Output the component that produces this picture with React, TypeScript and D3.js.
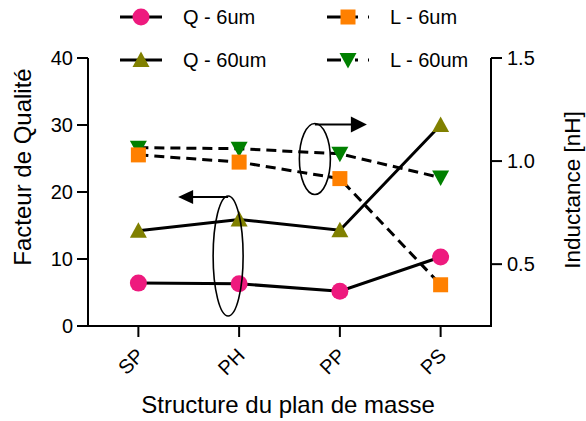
import React from "react";
import * as d3 from "d3";

const categories = ["SP", "PH", "PP", "PS"];
const q6um = [6.4, 6.3, 5.2, 10.3];
const q60um = [14.2, 15.9, 14.3, 30.0];
const l6um = [1.03, 0.995, 0.915, 0.40];
const l60um = [1.065, 1.06, 1.035, 0.92];
const leftTicks = [0, 10, 20, 30, 40];
const rightTicks = [0.5, 1.0, 1.5];

const W = 586;
const H = 421;
const FONT = "'Liberation Sans', Arial, Helvetica, sans-serif";

const x = d3.scalePoint<string>().domain(categories).range([88, 491]).padding(0.5);
const yL = d3.scaleLinear().domain([0, 40]).range([326, 58]);
const yR = d3.scaleLinear().domain([0.2, 1.5]).range([326, 58]);

type Marker = "circle" | "square" | "tri" | "tridown";

function markerEl(kind: Marker, cx: number, cy: number, color: string, key: string) {
  if (kind === "circle") return <circle key={key} cx={cx} cy={cy} r={8.5} fill={color} />;
  if (kind === "square")
    return <rect key={key} x={cx - 7.5} y={cy - 7.5} width={15} height={15} fill={color} />;
  if (kind === "tri")
    return (
      <path key={key} d={`M${cx},${cy - 8.5}L${cx + 8.5},${cy + 7}L${cx - 8.5},${cy + 7}Z`} fill={color} />
    );
  return (
    <path key={key} d={`M${cx},${cy + 8.5}L${cx + 8.5},${cy - 7}L${cx - 8.5},${cy - 7}Z`} fill={color} />
  );
}

const series = [
  { name: "Q - 6um", values: q6um, scale: yL, color: "#EE1A7E", marker: "circle" as Marker, dashed: false },
  { name: "Q - 60um", values: q60um, scale: yL, color: "#808000", marker: "tri" as Marker, dashed: false },
  { name: "L - 60um", values: l60um, scale: yR, color: "#008000", marker: "tridown" as Marker, dashed: true },
  { name: "L - 6um", values: l6um, scale: yR, color: "#FF8000", marker: "square" as Marker, dashed: true },
];

const legendItems = [
  { name: "Q - 6um", color: "#EE1A7E", marker: "circle" as Marker, dashed: false, col: 0, row: 0 },
  { name: "L - 6um", color: "#FF8000", marker: "square" as Marker, dashed: true, col: 1, row: 0 },
  { name: "Q - 60um", color: "#808000", marker: "tri" as Marker, dashed: false, col: 0, row: 1 },
  { name: "L - 60um", color: "#008000", marker: "tridown" as Marker, dashed: true, col: 1, row: 1 },
];

export default function App() {
  const line = d3.line<[number, number]>().x((d) => d[0]).y((d) => d[1]);
  const pxPH = x("PH")!;
  const pxPP = x("PP")!;
  const e1 = { cx: pxPH - 11, cy: yL(10.45), rx: 15, ry: 60 };
  const e2 = { cx: pxPP - 25, cy: yR(1.01), rx: 15.5, ry: 35.5 };
  return (
    <svg width={W} height={H} style={{ display: "block", position: "absolute", left: 0, top: 0 }} fontFamily={FONT}>
      <rect width={W} height={H} fill="#fff" />
      {/* axes frame */}
      <g stroke="#000" strokeWidth={2} fill="none">
        <line x1={88} y1={yL(40)} x2={88} y2={327} />
        <line x1={87} y1={326} x2={492} y2={326} />
        <line x1={491} y1={yR(1.5)} x2={491} y2={327} />
      </g>
      {/* left ticks */}
      {leftTicks.map((t) => (
        <g key={"l" + t}>
          <line x1={77} x2={88} y1={yL(t)} y2={yL(t)} stroke="#000" strokeWidth={2} />
          <text x={73} y={yL(t)} dy="0.35em" textAnchor="end" fontSize={20}>
            {t}
          </text>
        </g>
      ))}
      {/* right ticks */}
      {rightTicks.map((t) => (
        <g key={"r" + t}>
          <line x1={491} x2={502} y1={yR(t)} y2={yR(t)} stroke="#000" strokeWidth={2} />
          <text x={507} y={yR(t)} dy="0.35em" textAnchor="start" fontSize={20}>
            {t.toFixed(1)}
          </text>
        </g>
      ))}
      {/* bottom ticks */}
      {categories.map((c) => (
        <g key={"b" + c}>
          <line x1={x(c)!} x2={x(c)!} y1={326} y2={337} stroke="#000" strokeWidth={2} />
          <text
            transform={`translate(${x(c)! - 3},${347}) rotate(-45)`}
            textAnchor="end"
            fontSize={20}
            dy="0.7em"
          >
            {c}
          </text>
        </g>
      ))}
      {/* axis titles */}
      <text transform={`translate(31,${167}) rotate(-90)`} textAnchor="middle" fontSize={24}>
        Facteur de Qualité
      </text>
      <text transform={`translate(580,${190}) rotate(-90)`} textAnchor="middle" fontSize={22.5}>
        Inductance [nH]
      </text>
      <text x={288} y={413} textAnchor="middle" fontSize={24}>
        Structure du plan de masse
      </text>
      {/* series lines */}
      {series.map((s) => (
        <path
          key={"line" + s.name}
          d={line(s.values.map((v, i) => [x(categories[i])!, s.scale(v)]))!}
          fill="none"
          stroke="#000"
          strokeWidth={3}
          strokeDasharray={s.dashed ? "10 6" : undefined}
        />
      ))}
      {/* markers */}
      {series.map((s) => (
        <g key={"m" + s.name}>
          {s.values.map((v, i) => markerEl(s.marker, x(categories[i])!, s.scale(v), s.color, s.name + i))}
        </g>
      ))}
      {/* annotations */}
      <g fill="none" stroke="#000" strokeWidth={1.6}>
        <ellipse cx={e1.cx} cy={e1.cy} rx={e1.rx} ry={e1.ry} />
        <ellipse cx={e2.cx} cy={e2.cy} rx={e2.rx} ry={e2.ry} />
        <line x1={e1.cx} y1={e1.cy - e1.ry + 1} x2={e1.cx - 36} y2={e1.cy - e1.ry + 1} strokeWidth={2} />
        <line x1={e2.cx} y1={e2.cy - e2.ry + 1} x2={e2.cx + 37} y2={e2.cy - e2.ry + 1} strokeWidth={2} />
      </g>
      <path
        d={`M${e1.cx - 50},${e1.cy - e1.ry + 1}L${e1.cx - 35},${e1.cy - e1.ry - 6}L${e1.cx - 35},${e1.cy - e1.ry + 8}Z`}
        fill="#000"
      />
      <path
        d={`M${e2.cx + 52},${e2.cy - e2.ry + 1}L${e2.cx + 36},${e2.cy - e2.ry - 7}L${e2.cx + 36},${e2.cy - e2.ry + 9}Z`}
        fill="#000"
      />
      {/* legend */}
      {legendItems.map((it) => {
        const lx = it.col === 0 ? 120 : 327;
        const ly = it.row === 0 ? 17 : 60;
        const mx = lx + 21;
        return (
          <g key={"leg" + it.name}>
            <line
              x1={lx}
              x2={lx + 42}
              y1={ly}
              y2={ly}
              stroke="#000"
              strokeWidth={3}
              strokeDasharray={it.dashed ? "14 14 3 10" : undefined}
            />
            {markerEl(it.marker, mx, ly, it.color, "lm" + it.name)}
            <text x={lx + 63} y={ly} dy="0.36em" fontSize={20}>
              {it.name}
            </text>
          </g>
        );
      })}
    </svg>
  );
}
